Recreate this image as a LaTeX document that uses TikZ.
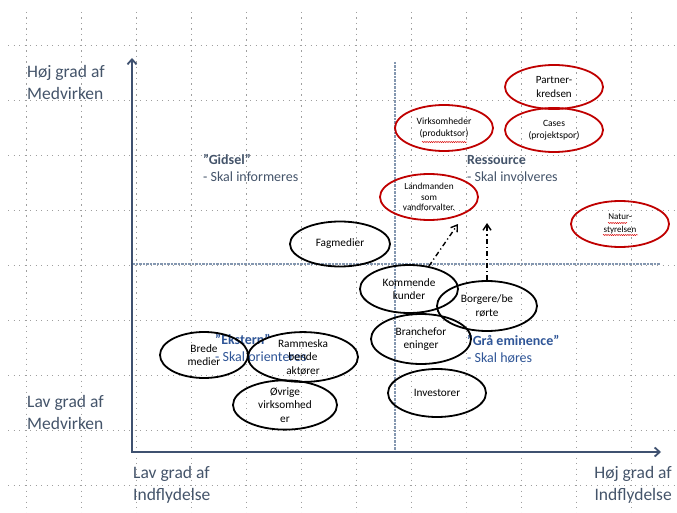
\documentclass[tikz,border=0pt]{standalone}
\usepackage{fontspec}
\setmainfont{Carlito}
\usetikzlibrary{shapes.geometric,arrows.meta,decorations.pathmorphing}
\definecolor{axisc}{HTML}{3F5170}
\definecolor{txt}{HTML}{44546A}
\definecolor{qblue}{HTML}{2F5597}
\definecolor{midc}{HTML}{8497B0}
\definecolor{redc}{HTML}{C00000}

\begin{document}
\begin{tikzpicture}[x=1pt,y=-1pt,
  gridline/.style={gray!75, line width=0.9pt, dash pattern=on 1.1pt off 4.4pt},
  axisline/.style={axisc, line width=1.8pt, {Straight Barb[length=5pt,width=9pt]}-{Straight Barb[length=5pt,width=9pt]}},
  midline/.style={midc, line width=1.2pt, dash pattern=on 2.5pt off 1pt},
  axlabel/.style={text=txt, font=\fontsize{17.5}{22}\selectfont, inner sep=0pt},
  quad/.style={font=\fontsize{14}{17}\selectfont, align=left, inner sep=0pt, anchor=base west},
  party/.style={ellipse, draw=black, line width=1.8pt, inner sep=0pt, align=center,
    font=\fontsize{11.3}{13.5}\selectfont},
  core/.style={ellipse, draw=redc, line width=1.8pt, inner sep=0pt, align=center,
    font=\fontsize{9.6}{12.3}\selectfont},
  shiftarrow/.style={black, line width=1.4pt, dash pattern=on 5pt off 3pt on 1.2pt off 3pt,
    -{Straight Barb[length=6pt,width=8pt]}},
  squig/.style={red!85!black, line width=0.45pt, decorate,
    decoration={snake, amplitude=0.6pt, segment length=2.2pt}}
]
\useasboundingbox (0,0) rectangle (677,513);
\fill[white] (0,0) rectangle (677,513);

% dotted background grid
\foreach \i in {0,...,11}
  \draw[gridline] (26.7+55*\i,12) -- (26.7+55*\i,513);
\foreach \j in {0,...,8}
  \draw[gridline] (8,45+55*\j) -- (677,45+55*\j);

% quadrant dividers
\coordinate (vt) at (395,62);
\coordinate (vb) at (395,452);
\coordinate (hl) at (132,264);
\coordinate (hr) at (660,264);
\draw[midline] (vt) -- (vb);
\draw[midline] (hl) -- (hr);

% axes
\coordinate (ytop) at (132,58);
\coordinate (O) at (132,452);
\coordinate (xend) at (661,452);
\draw[axisline] (ytop) -- (O) -- (xend);

% axis labels (anchored on the baseline of the last line)
\node[axlabel, anchor=base west, align=left] (hm) at (27,100) {Høj grad af\\Medvirken};
\node[axlabel, anchor=base west, align=left] (lm) at (27,429) {Lav grad af\\Medvirken};
\node[axlabel, anchor=base west, align=left] (li) at (133,500) {Lav grad af\\Indflydelse};
\node[axlabel, anchor=base east, align=right] (hi) at (672,500) {Høj grad af\\Indflydelse};

% quadrant labels
\node[quad, text=txt] (q1) at (203,182) {\textbf{”Gidsel”}\\- Skal informeres};
\node[quad, text=txt] (q2) at (467,182) {\textbf{Ressource}\\- Skal involveres};
\node[quad, text=qblue] (q3) at (215,361) {\textbf{”Ekstern”}\\- Skal orienteres};
\node[quad, text=qblue] (q4) at (467,362) {\textbf{”Grå eminence”}\\- Skal høres};

% stakeholders
\node[party, minimum width=100pt, minimum height=45pt] (fag) at (340,244) {Fagmedier};
\node[party, minimum width=98pt, minimum height=48pt] (kk) at (409,289) {Kommende\\kunder};
\node[party, minimum width=100pt, minimum height=50pt] (bo) at (487,306) {Borgere/be\\rørte};
\node[party, minimum width=100pt, minimum height=50pt] (br) at (421,339) {Branchefor\\eninger};
\node[party, minimum width=98pt, minimum height=48pt] (inv) at (437,393) {Investorer};
\node[party, minimum width=88pt, minimum height=46pt] (bm) at (204,355) {Brede\\medier};
\node[party, minimum width=110pt, minimum height=48pt] (rb) at (303,357) {Rammeska\\bende\\aktører};
\node[party, minimum width=104pt, minimum height=46pt] (ov) at (285,405) {Øvrige\\virksomhed\\er};

% core partners
\node[core, minimum width=98pt, minimum height=44pt, font=\fontsize{11}{13.5}\selectfont] (pk) at (554,87) {Partner-\\kredsen};
\node[core, minimum width=98pt, minimum height=44pt] (cs) at (554,130) {Cases\\(projektspor)};
\node[core, minimum width=98pt, minimum height=46pt] (vp) at (444,128) {Virksomheder\\(produktsor)};
\node[core, minimum width=98pt, minimum height=46pt, font=\fontsize{9.3}{10.8}\selectfont] (lv) at (429,197) {Landmanden\\som\\vandforvalter.};
\node[core, minimum width=98pt, minimum height=46pt, font=\fontsize{9}{12.5}\selectfont] (ns) at (620,224) {Natur-\\styrelsen};

% spelling marks
\draw[squig] (422,142) -- (467,142);
\draw[squig] (608,223) -- (627,223);
\draw[squig] (603,235) -- (638,235);

% movement towards the resource quadrant
\coordinate (a1) at (458,224);
\coordinate (a2) at (487,223);
\draw[shiftarrow] (kk.49) -- (a1);
\draw[shiftarrow] (bo.north) -- (a2);
\end{tikzpicture}
\end{document}
